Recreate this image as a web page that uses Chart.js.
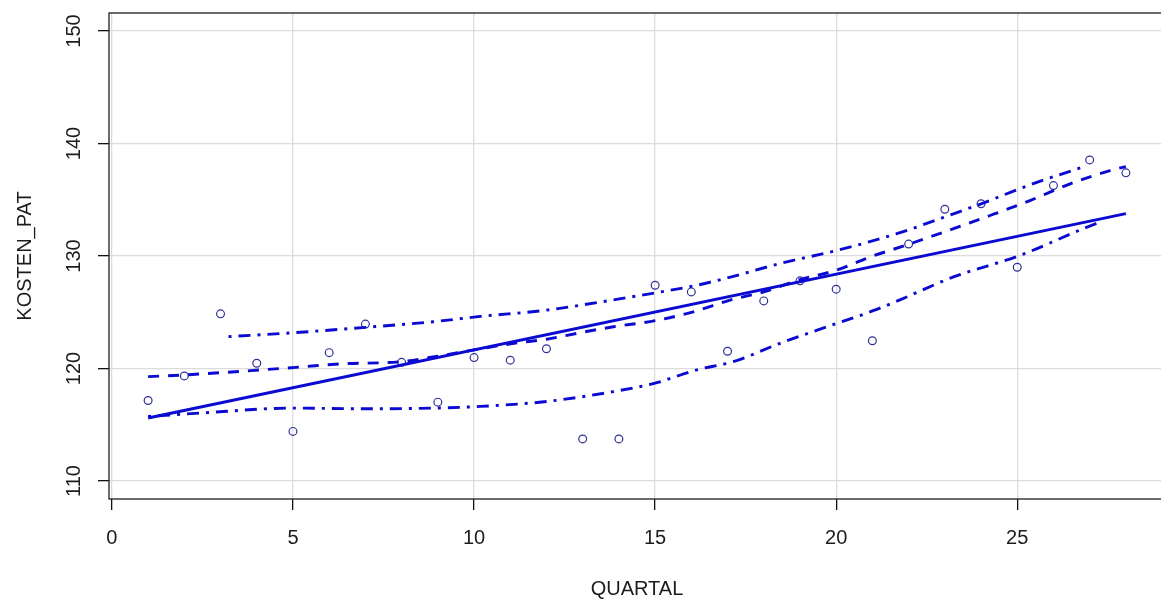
<!DOCTYPE html>
<html>
<head>
<meta charset="utf-8">
<script src="https://cdn.jsdelivr.net/npm/chart.js@4.4.1/dist/chart.umd.min.js"></script>
<style>
  html, body { margin: 0; padding: 0; background: #ffffff; overflow: hidden; }
  #wrap { position: relative; width: 1161px; height: 599px; }
</style>
</head>
<body>
<div id="wrap"><canvas id="c" width="1161" height="599"></canvas></div>
<script>
// Observed quarterly cost per patient
const quartal   = [1, 2, 3, 4, 5, 6, 7, 8, 9, 10, 11, 12, 13, 14,
                   15, 16, 17, 18, 19, 20, 21, 22, 23, 24, 25, 26, 27, 28];
const kostenPat = [117.16, 119.34, 124.86, 120.47, 114.41, 121.41, 123.95, 120.55, 117.01, 120.97,
                   120.74, 121.76, 113.74, 113.74, 127.40, 126.81, 121.53, 126.01, 127.79, 127.05,
                   122.47, 131.06, 134.16, 134.64, 129.00, 136.26, 138.54, 137.39];

// Linear fit (end points)
const fitX = [1, 28];
const fitY = [115.6, 133.76];

// Nonparametric smooth
const smoothX = [1, 2, 5, 6.3, 8, 9, 10, 11.1, 12, 12.93, 13.85, 15, 16.06, 17.07, 18, 19, 20,
                 20.94, 22.02, 23.24, 24.25, 25.35, 26.46, 27.56, 28];
const smoothY = [119.28, 119.43, 120.08, 120.41, 120.61, 121.1, 121.65, 122.24, 122.6, 123.18, 123.71,
                 124.25, 125.04, 126.08, 126.81, 127.91, 128.73, 129.91, 131.06, 132.43, 133.6, 134.93,
                 136.41, 137.59, 137.95];

// Upper and lower spread of the smooth
const upperX = [3.22, 5.01, 7.01, 8.88, 10.17, 12.01, 13.85, 15.0, 16.15, 17.16, 18.45, 20.1,
                21.67, 23.24, 24.0, 25.54, 26.37, 26.8];
const upperY = [122.83, 123.18, 123.66, 124.16, 124.63, 125.19, 126.1, 126.72, 127.4, 128.19, 129.33,
                130.56, 131.98, 133.75, 134.64, 136.55, 137.44, 137.9];
const lowerX = [1.0, 2.44, 5.01, 7.04, 8.88, 10.17, 12.01, 13.85, 15.0, 16.15, 17.16, 18.45, 20.02,
                21.12, 21.76, 23.24, 25.08, 26.82, 27.35];
const lowerY = [115.74, 116.04, 116.48, 116.42, 116.48, 116.63, 117.07, 117.95, 118.7, 119.88, 120.61,
                122.24, 124.01, 125.25, 126.1, 128.14, 130.06, 132.43, 133.1];

// Axes
const xTicks = [0, 5, 10, 15, 20, 25];
const yTicks = [110, 120, 130, 140, 150];
const xTitle = 'QUARTAL';
const yTitle = 'KOSTEN_PAT';

const pairs = (xs, ys) => xs.map((x, i) => ({ x: x, y: ys[i] }));

const LINE_BLUE = '#0a0ad2';
const POINT_BLUE = '#2f2f98';
const TEXT = '#1c1c1c';
const FONT = '20px "Liberation Sans", Arial, sans-serif';

// The plot region runs a few pixels past the right edge of the canvas
const widenPlugin = {
  id: 'widen',
  afterLayout(chart) {
    const a = chart.chartArea;
    const xs = chart.scales.x;
    a.right = chart.width + 4;
    a.width = a.right - a.left;
    xs.right = a.right;
    xs.width = a.right - xs.left;
    xs.configure();
  }
};

// Frame, tick labels and axis titles in base-graphics style
const framePlugin = {
  id: 'frame',
  afterDraw(chart) {
    const ctx = chart.ctx;
    const a = chart.chartArea;
    const xs = chart.scales.x, ys = chart.scales.y;
    ctx.save();
    ctx.strokeStyle = '#1e1e1e';
    ctx.lineWidth = 1.3;
    ctx.strokeRect(a.left, a.top, a.right - a.left, a.bottom - a.top);

    ctx.fillStyle = TEXT;
    ctx.font = FONT;
    ctx.textAlign = 'center';
    ctx.textBaseline = 'alphabetic';
    // x tick labels
    xTicks.forEach(v => {
      ctx.fillText(String(v), xs.getPixelForValue(v), 544);
    });
    // x title
    ctx.fillText(xTitle, (a.left + a.right) / 2, 594.5);
    // y tick labels, rotated
    yTicks.forEach(v => {
      ctx.save();
      ctx.translate(80.3, ys.getPixelForValue(v));
      ctx.rotate(-Math.PI / 2);
      ctx.fillText(String(v), 0, 0);
      ctx.restore();
    });
    // y title, rotated
    ctx.save();
    ctx.translate(30.8, (a.top + a.bottom) / 2);
    ctx.rotate(-Math.PI / 2);
    ctx.fillText(yTitle, 0, 0);
    ctx.restore();
    ctx.restore();
  }
};

const gridOpts = {
  color: '#dcdcdc',
  lineWidth: 1.3,
  drawTicks: true,
  tickLength: 11,
  tickColor: '#111111',
  tickWidth: 1.3
};

new Chart(document.getElementById('c'), {
  type: 'scatter',
  data: {
    datasets: [
      {
        label: 'Linear fit',
        data: pairs(fitX, fitY),
        showLine: true,
        borderColor: LINE_BLUE,
        borderWidth: 2.9,
        pointRadius: 0,
        order: 1
      },
      {
        label: 'Smooth',
        data: pairs(smoothX, smoothY),
        showLine: true,
        borderColor: LINE_BLUE,
        borderWidth: 2.9,
        borderDash: [11, 9],
        cubicInterpolationMode: 'monotone',
        pointRadius: 0,
        order: 2
      },
      {
        label: 'Upper spread',
        data: pairs(upperX, upperY),
        showLine: true,
        borderColor: LINE_BLUE,
        borderWidth: 2.9,
        borderDash: [3, 7, 12, 7],
        cubicInterpolationMode: 'monotone',
        pointRadius: 0,
        order: 3
      },
      {
        label: 'Lower spread',
        data: pairs(lowerX, lowerY),
        showLine: true,
        borderColor: LINE_BLUE,
        borderWidth: 2.9,
        borderDash: [3, 7, 12, 7],
        cubicInterpolationMode: 'monotone',
        pointRadius: 0,
        order: 4
      },
      {
        label: 'KOSTEN_PAT',
        data: pairs(quartal, kostenPat),
        showLine: false,
        pointStyle: 'circle',
        pointRadius: 3.9,
        pointBorderWidth: 1.2,
        pointBorderColor: POINT_BLUE,
        pointBackgroundColor: 'rgba(0,0,0,0)',
        order: 5
      }
    ]
  },
  options: {
    responsive: false,
    devicePixelRatio: 1,
    animation: false,
    events: [],
    layout: { padding: { left: 0, right: 0, top: 13, bottom: 0 } },
    plugins: {
      legend: { display: false },
      tooltip: { enabled: false },
      title: { display: false }
    },
    scales: {
      x: {
        type: 'linear',
        min: -0.08,
        max: 29.08,
        afterBuildTicks: s => { s.ticks = xTicks.map(v => ({ value: v })); },
        afterFit: s => { s.height = 100; },
        ticks: { display: false },
        grid: gridOpts,
        border: { display: false }
      },
      y: {
        type: 'linear',
        min: 108.4,
        max: 151.6,
        afterBuildTicks: s => { s.ticks = yTicks.map(v => ({ value: v })); },
        afterFit: s => { s.width = 109; },
        ticks: { display: false },
        grid: gridOpts,
        border: { display: false }
      }
    }
  },
  plugins: [widenPlugin, framePlugin]
});
</script>
</body>
</html>
